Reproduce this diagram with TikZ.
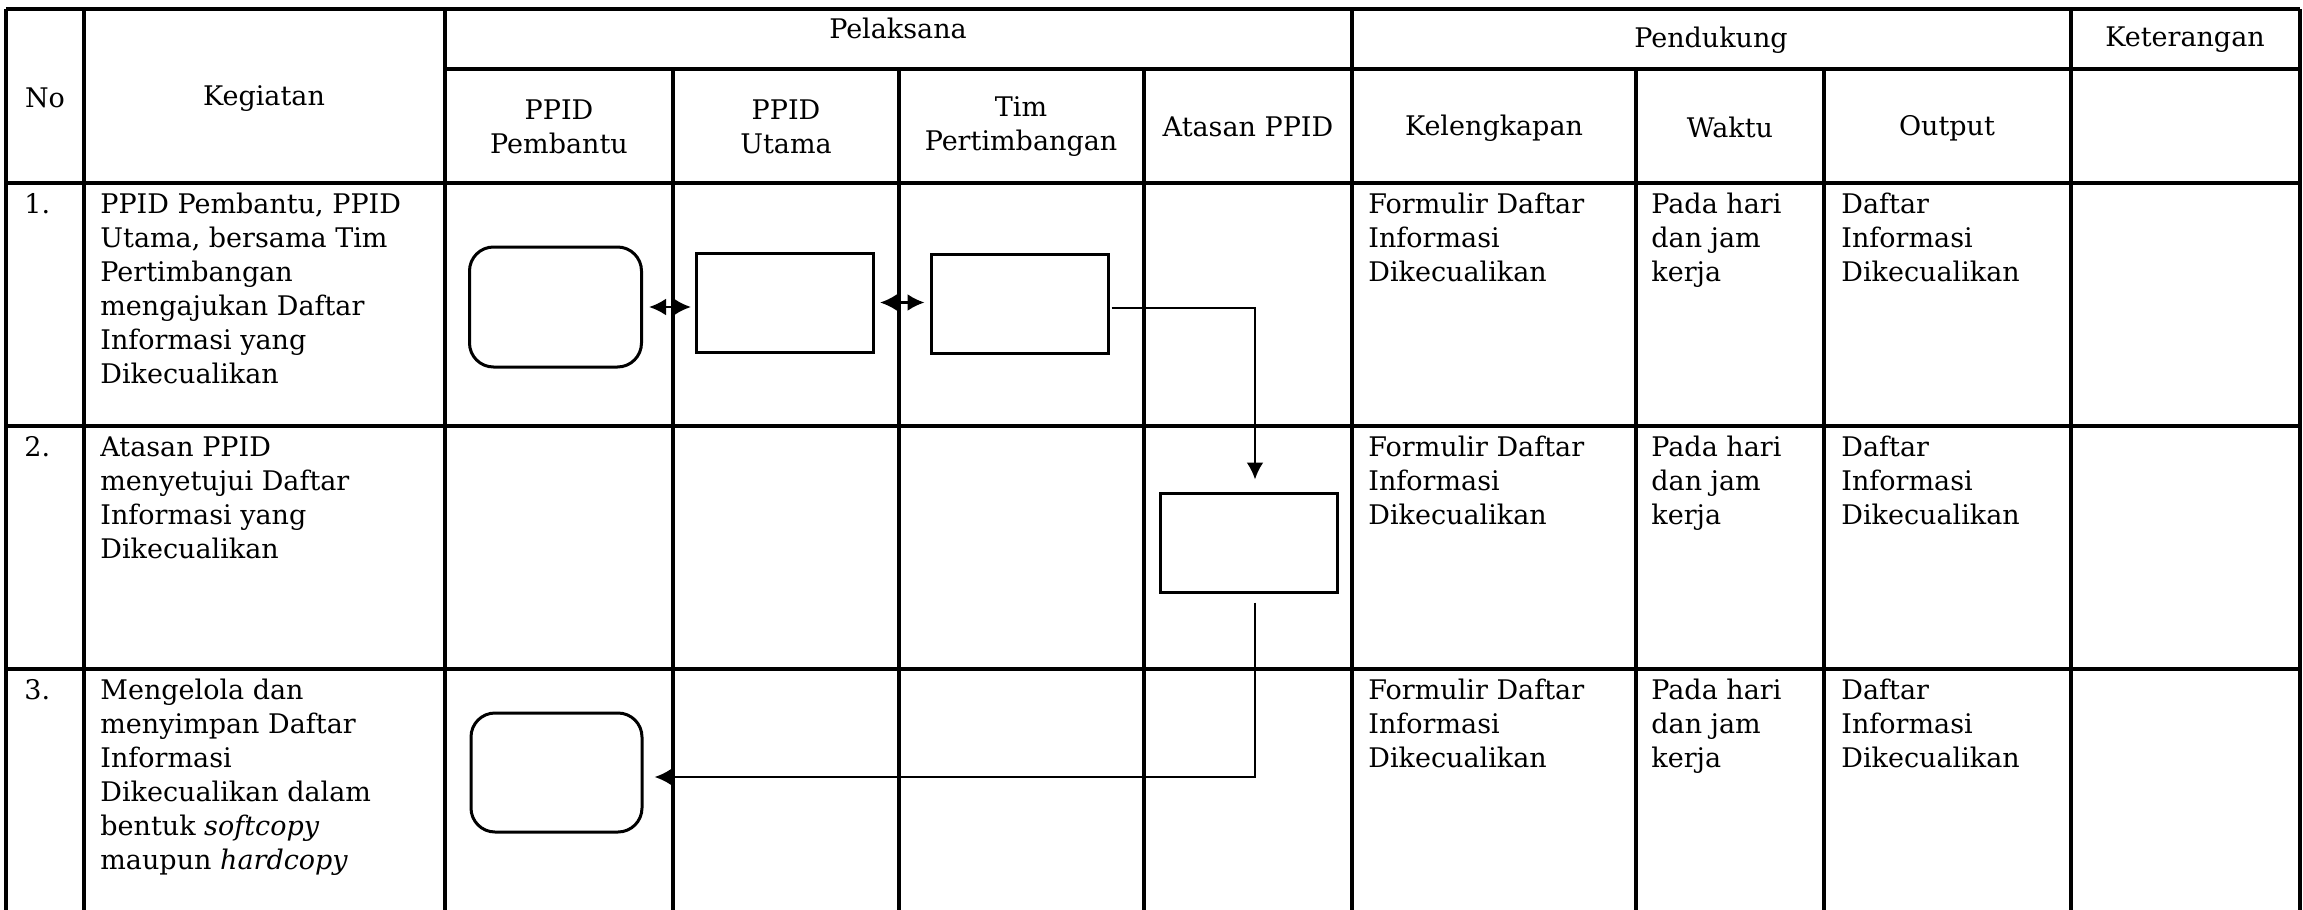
\documentclass[tikz,border=0pt]{standalone}
\usepackage{fontspec}
\setmainfont{DejaVu Serif}
\usetikzlibrary{arrows.meta,calc}

\begin{document}
\begin{tikzpicture}[x=0.5pt,y=-0.5pt,>={Latex[length=8.5pt,width=8.5pt]},
		font=\fontsize{13.5}{17}\selectfont,
		grid/.style={line width=1.7pt},
		cell/.style={anchor=north west,inner sep=0pt,align=left},
		head/.style={inner sep=0pt,align=center},
		proc/.style={draw,line width=1.5pt,inner sep=0pt,minimum width=88.5pt,minimum height=49.5pt},
		term/.style={proc,rounded corners=12pt,minimum width=86pt,minimum height=60pt},
		flow/.style={line width=1.3pt}
	]
		\useasboundingbox (0,0) rectangle (2303,910);

		% table lines
		\draw[grid] (6,9) -- (2300,9) (445,69) -- (2300,69);
		\foreach \y in {183,426,669}
			\draw[grid] (6,\y) -- (2300,\y);
		\foreach \x in {6,84,445,1352,2071,2300}
			\draw[grid] (\x,9) -- (\x,910);
		\foreach \x in {673,899,1144,1636,1824}
			\draw[grid] (\x,69) -- (\x,910);

		% header
		\node[head] (no)   at (45,98)    {No};
		\node[head] (keg)  at (264,99)   {Kegiatan};
		\node[head] (pel)  at (898,28)   {Pelaksana};
		\node[head] (pend) at (1711,40)  {Pendukung};
		\node[head] (ket)  at (2185,40)  {Keterangan};
		\node[head] (hpb)  at (559,127)  {PPID\\Pembantu};
		\node[head] (hpu)  at (786,127)  {PPID\\Utama};
		\node[head] (htp)  at (1021,127) {Tim\\Pertimbangan};
		\node[head] (hat)  at (1248,127) {Atasan PPID};
		\node[head] (hkel) at (1494,128) {Kelengkapan};
		\node[head] (hwak) at (1730,127) {Waktu};
		\node[head] (hout) at (1947,128) {Output};

		% rows
		\node[cell] (no1) at (24,193) {1.};
		\node[cell] (keg1) at (100,193) {PPID Pembantu, PPID\\Utama, bersama Tim\\Pertimbangan\\mengajukan Daftar\\Informasi yang\\Dikecualikan};
		\node[cell] (no2) at (24,436) {2.};
		\node[cell] (keg2) at (100,436) {Atasan PPID\\menyetujui Daftar\\Informasi yang\\Dikecualikan};
		\node[cell] (no3) at (24,679) {3.};
		\node[cell] (keg3) at (100,679) {Mengelola dan\\menyimpan Daftar\\Informasi\\Dikecualikan dalam\\bentuk \textit{softcopy}\\maupun \textit{hardcopy}};
		\foreach \r/\y in {1/193,2/436,3/679} {
			\node[cell] (kel\r) at (1368,\y) {Formulir Daftar\\Informasi\\Dikecualikan};
			\node[cell] (wak\r) at (1651,\y) {Pada hari\\dan jam\\kerja};
			\node[cell] (out\r) at (1841,\y) {Daftar\\Informasi\\Dikecualikan};
		}

		% flow
		\node[term] (pb1) at (555.5,307) {};
		\node[proc] (pu1) at (785,302.5) {};
		\node[proc] (tp1) at (1019.5,303.5) {};
		\node[proc] (at2) at (1248.5,542.5) {};
		\node[term,minimum width=85.5pt,minimum height=59.5pt] (pb3) at (556.5,772.5) {};

		\draw[flow,<->,shorten <=3pt,shorten >=2pt] (pb1.east) -- (pb1.east -| pu1.west);
		\draw[flow,<->,shorten <=2.5pt,shorten >=2.5pt] (pu1.east) -- (pu1.east -| tp1.west);
		\draw[flow,->,shorten <=1pt,shorten >=6pt] ([yshift=-2.25pt]tp1.east) -| ([xshift=3.25pt]at2.north);
		\draw[flow,->,shorten <=4.5pt,shorten >=5.5pt] ([xshift=3.25pt]at2.south) |- ([yshift=-2.25pt]pb3.east);
	\end{tikzpicture}
\end{document}
